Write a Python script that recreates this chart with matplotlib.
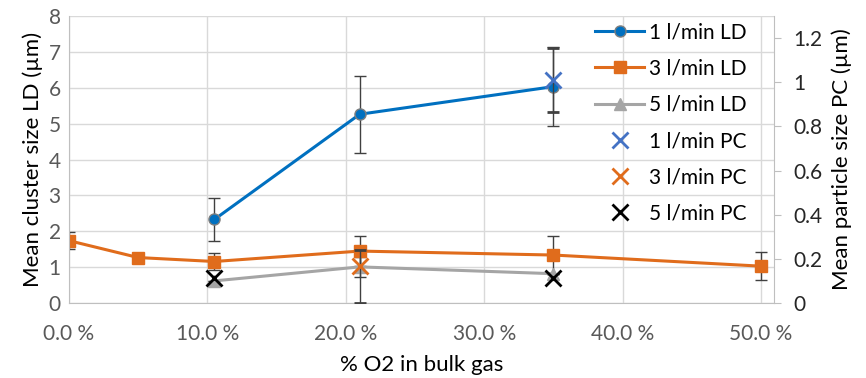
import matplotlib
matplotlib.use('Agg')
import matplotlib.pyplot as plt
from matplotlib.ticker import FuncFormatter

plt.rcParams['font.family'] = ['Lato', 'DejaVu Sans']

# % O2 in bulk gas
o2_1 = [10.5, 21.0, 35.0]
o2_3 = [0.0, 5.0, 10.5, 21.0, 35.0, 50.0]
o2_5 = [10.5, 21.0, 35.0]

# mean cluster size LD (um) with error
ld_1 = [2.33, 5.26, 6.03]
ld_1_err = [0.61, 1.07, 1.10]
ld_3 = [1.74, 1.27, 1.16, 1.45, 1.34, 1.03]
ld_3_err = [0.23, 0.0, 0.25, 0.41, 0.53, 0.39]
ld_5 = [0.62, 1.01, 0.82]
ld_5_err = [0.0, 0.28, 0.0]

# mean particle size PC (um) with error
pc_x1, pc_1, pc_1_err = [35.0], [1.01], [0.146]
pc_x3, pc_3, pc_3_err = [21.0], [0.17], [[0.17], [0.07]]
pc_x5, pc_5 = [10.5, 35.0], [0.115, 0.112]

BLUE = '#0070C0'
ORANGE = '#E06C1C'
GRAY = '#A5A5A5'
ERR = '#404040'
TICK = '#595959'

fig = plt.figure(figsize=(8.66, 3.78), dpi=100)
ax = fig.add_axes([0.0797, 0.198, 0.8143, 0.760])
ax2 = ax.twinx()

ek = dict(ecolor=ERR, elinewidth=1, capsize=4, capthick=1)
l1 = ax.errorbar(o2_1, ld_1, yerr=ld_1_err, color=BLUE, lw=2.2, marker='o', ms=8,
                 mfc=BLUE, mec='#7f7f7f', mew=1, **ek)
l3 = ax.errorbar(o2_3, ld_3, yerr=ld_3_err, color=ORANGE, lw=2.2, marker='s', ms=8, **ek)
l5 = ax.errorbar(o2_5, ld_5, yerr=ld_5_err, color=GRAY, lw=2.2, marker='^', ms=8, **ek)

p1 = ax2.errorbar(pc_x1, pc_1, yerr=pc_1_err, fmt='x', color='#4472C4', ms=11, mew=2, **ek)
p3 = ax2.errorbar(pc_x3, pc_3, yerr=pc_3_err, fmt='x', color=ORANGE, ms=11, mew=2, **ek)
p5 = ax2.plot(pc_x5, pc_5, 'x', color='black', ms=11, mew=2)[0]

ax.set_xlim(0, 50.95)
ax.set_ylim(0, 8)
ax2.set_ylim(0, 1.3)
ax.set_xticks([0, 10, 20, 30, 40, 50])
ax.xaxis.set_major_formatter(FuncFormatter(lambda v, p: f'{v:.1f} %'))
ax.set_yticks(range(0, 9))
ax2.set_yticks([0, 0.2, 0.4, 0.6, 0.8, 1.0, 1.2])
ax2.yaxis.set_major_formatter(FuncFormatter(lambda v, p: f'{v:g}'))

ax.grid(True, color='#D9D9D9', lw=1)
ax.set_axisbelow(True)
for s in ['top', 'right']:
    ax.spines[s].set_visible(False)
for s in ['top', 'left']:
    ax2.spines[s].set_visible(False)
for s in ['left', 'bottom']:
    ax.spines[s].set_color('#BFBFBF')
ax2.spines['bottom'].set_visible(False)
ax2.spines['right'].set_color('#BFBFBF')

ax.tick_params(axis='both', length=0, labelsize=15, labelcolor=TICK, pad=6)
ax.tick_params(axis='x', pad=15)
ax2.tick_params(axis='y', length=5, color='#BFBFBF', labelsize=15, labelcolor='#262626', pad=9)

ax.set_xlabel('% O2 in bulk gas', fontsize=16, labelpad=8)
ax.set_ylabel('Mean cluster size LD (µm)', fontsize=16, labelpad=4)
ax2.set_ylabel('Mean particle size PC (µm)', fontsize=16, labelpad=6)

leg = ax2.legend([l1[0], l3[0], l5[0], p1[0], p3[0], p5],
                 ['1 l/min LD', '3 l/min LD', '5 l/min LD', '1 l/min PC', '3 l/min PC', '5 l/min PC'],
                 loc='upper right', bbox_to_anchor=(0.985, 1.035), frameon=False, fontsize=15,
                 handlelength=2.35, handletextpad=0.25, labelspacing=0.78, borderpad=0.3)

fig.savefig('out.png', dpi=100)
